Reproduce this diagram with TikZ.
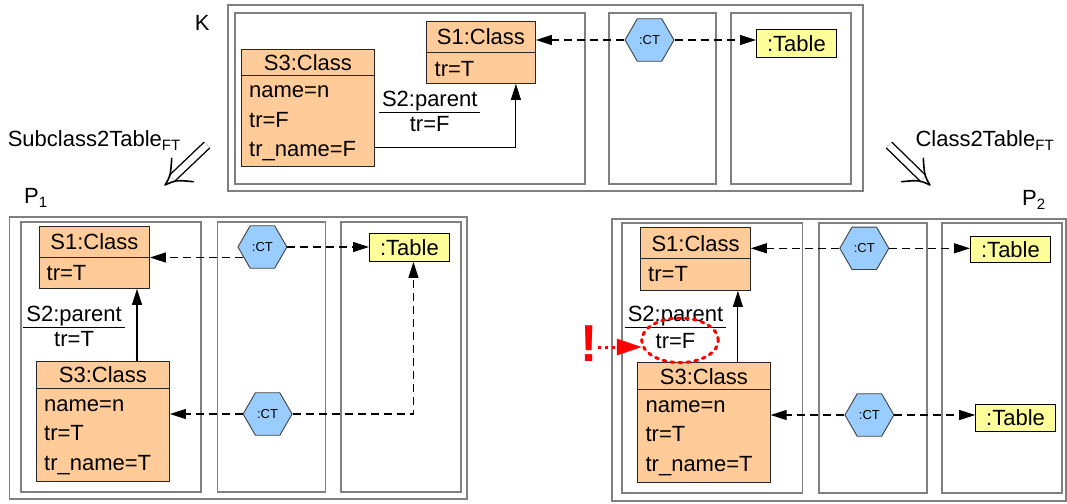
\documentclass[tikz,border=0pt]{standalone}
\usepackage{fontspec}
\setmainfont{Liberation Sans}
\usetikzlibrary{arrows.meta,shapes.geometric}
\definecolor{clsfill}{HTML}{FFCC99}
\definecolor{tabfill}{HTML}{FFFF99}
\definecolor{hexfill}{HTML}{99CCFF}
\definecolor{panelcol}{HTML}{808080}
\definecolor{alertcol}{HTML}{FF0000}
\newcommand\subtxt[1]{\raisebox{-4pt}{\fontsize{15}{15}\selectfont #1}}
\tikzset{
  panel/.style={draw=panelcol, line width=1.8pt, anchor=north west, inner sep=0pt},
  clshead/.style={draw=black!85, fill=clsfill, line width=0.9pt, anchor=north west, inner sep=0pt, font=\fontsize{22}{26}\selectfont},
  clsbody/.style={draw=black!85, fill=clsfill, line width=0.9pt, anchor=north west, inner sep=0pt},
  attr/.style={font=\fontsize{22}{26}\selectfont, anchor=base west, inner sep=0pt},
  lbl/.style={font=\fontsize{22}{26}\selectfont, anchor=base, inner xsep=0pt, inner ysep=1.5pt},
  title/.style={font=\fontsize{22}{26}\selectfont, anchor=base west, inner sep=0pt},
  tabbox/.style={draw=black, fill=tabfill, line width=0.9pt, anchor=north west, inner sep=0pt, font=\fontsize{22}{26}\selectfont},
  hexnode/.style={regular polygon, regular polygon sides=6, minimum size=49pt, inner sep=0pt, draw=black!75, fill=hexfill, line width=0.9pt, font=\fontsize{13}{15}\selectfont},
  dep/.style={dash pattern=on 8pt off 5pt, line width=1.1pt, -{Triangle[length=16pt,width=10pt]}},
  assoc/.style={line width=1.1pt, -{Triangle[length=16pt,width=10pt]}},
  sepline/.style={line width=1pt},
  dblshaft/.style={double, double distance=6.5pt, line width=1.4pt},
  dblhead/.style={line width=1.6pt, line cap=round, line join=round},
  alertarrow/.style={draw=alertcol, line width=3pt, dash pattern=on 3pt off 4pt, -{Triangle[length=25pt,width=16pt,fill=alertcol]}},
  alertring/.style={ellipse, draw=alertcol, line width=3pt, dash pattern=on 3pt off 5pt, line cap=round, inner sep=0pt},
}
\begin{document}
\begin{tikzpicture}[x=1pt,y=-1pt]
\useasboundingbox (0,0) rectangle (1067,503);

% ---------------- K ----------------
\node[title] (klab) at (194.6,30.7) {K};
\node[panel, minimum width=635pt, minimum height=186pt] (kout) at (227,4) {};
\node[panel, minimum width=350pt, minimum height=171pt] (kf1) at (234,12) {};
\node[panel, minimum width=107pt, minimum height=171pt] (kf2) at (608,12) {};
\node[panel, minimum width=120pt, minimum height=171pt] (kf3) at (730,12) {};

\node[clshead, minimum width=109pt, minimum height=31pt] (k1h) at (426,21) {S1:Class};
\node[clsbody, minimum width=109pt, minimum height=31pt] (k1b) at (426,52) {};
\node[attr] (k1a) at (434.5,76) {tr=T};

\node[clshead, minimum width=133pt, minimum height=26pt] (k3h) at (241,49) {S3:Class};
\node[clsbody, minimum width=133pt, minimum height=91pt] (k3b) at (241,75) {};
\node[attr] (k3a) at (249,97.5) {name=n};
\node[attr] (k3c) at (249,127) {tr=F};
\node[attr] (k3d) at (249,156.5) {tr\_name=F};

\node[lbl, minimum width=101pt] (k2) at (429.7,106.7) {S2:parent};
\draw[sepline] (k2.south west) -- (k2.south east);
\node[lbl] (k2a) at (429.7,131.7) {tr=F};
\draw[assoc] ([yshift=3.5pt]k3b.east |- k3d.east) -| ([xshift=-20pt]k1b.south east);

\node[hexnode] (khex) at (649.5,40) {:CT};
\node[tabbox, minimum width=80pt, minimum height=28pt] (ktab) at (756,29) {:Table};
\draw[dep] (khex.west) -- (khex.west -| k1h.east);
\draw[dep] (khex.east) -- (khex.east -| ktab.west);

% ---------------- rule arrows ----------------
\node[title] (lrule) at (7.6,146.7) {Subclass2Table\subtxt{FT}};
\coordinate (ls) at (207,145);
\coordinate (lm) at (172.2,178.1);
\coordinate (lw1) at (171.7,158.3);
\coordinate (lt) at (165,185);
\coordinate (lw2) at (193.3,181.7);
\draw[dblshaft] (ls) -- (lm);
\draw[dblhead] (lw1) .. controls (170.5,176) .. (lt) .. controls (176,180) .. (lw2);

\node[title] (rrule) at (915.3,146.7) {Class2Table\subtxt{FT}};
\coordinate (rs) at (889,145);
\coordinate (rm) at (922.8,178.1);
\coordinate (rw1) at (923.3,158.3);
\coordinate (rt) at (930,185);
\coordinate (rw2) at (901.7,181.7);
\draw[dblshaft] (rs) -- (rm);
\draw[dblhead] (rw1) .. controls (924.5,176) .. (rt) .. controls (919,180) .. (rw2);

% ---------------- P1 ----------------
\node[title] (p1lab) at (24,203.3) {P\subtxt{1}};
\node[panel, minimum width=457.4pt, minimum height=282pt] (p1out) at (8.6,216) {};
\node[panel, minimum width=180.5pt, minimum height=270pt] (p1f1) at (19.7,220.7) {};
\node[panel, minimum width=108pt, minimum height=270pt] (p1f2) at (216.6,220.7) {};
\node[panel, minimum width=120pt, minimum height=270pt] (p1f3) at (340.3,220.7) {};

\node[clshead, minimum width=110pt, minimum height=31pt] (p1s1h) at (39,226) {S1:Class};
\node[clsbody, minimum width=110pt, minimum height=31pt] (p1s1b) at (39,257) {};
\node[attr] (p1s1a) at (46.5,280) {tr=T};

\node[clshead, minimum width=133pt, minimum height=27pt] (p1s3h) at (36,361) {S3:Class};
\node[clsbody, minimum width=133pt, minimum height=93pt] (p1s3b) at (36,388) {};
\node[attr] (p1s3a) at (44,411.7) {name=n};
\node[attr] (p1s3c) at (44,440.7) {tr=T};
\node[attr] (p1s3d) at (44,470) {tr\_name=T};

\node[lbl, minimum width=101.4pt] (p1s2) at (74.1,321.7) {S2:parent};
\draw[sepline] (p1s2.south west) -- (p1s2.south east);
\node[lbl] (p1s2a) at (74.1,346.7) {tr=T};
\draw[assoc] ([xshift=101pt]p1s3h.north west) -- ([xshift=101pt]p1s3h.north west |- p1s1b.south);

\node[hexnode] (p1hexa) at (262.4,247) {:CT};
\node[hexnode] (p1hexb) at (267.6,414) {:CT};
\node[tabbox, minimum width=80pt, minimum height=28pt] (p1tab) at (369,233) {:Table};
\draw[dep] (p1hexa.209) -- (p1hexa.209 -| p1s1b.east);
\draw[dep] (p1hexa.east) -- (p1hexa.east -| p1tab.west);
\draw[dep] (p1hexb.west) -- (p1hexb.west -| p1s3b.east);
\draw[dep] (p1hexb.east) -| ([xshift=4pt]p1tab.south);

% ---------------- P2 ----------------
\node[title] (p2lab) at (1022,205) {P\subtxt{2}};
\node[panel, minimum width=454pt, minimum height=282.3pt] (p2out) at (610.8,217.7) {};
\node[panel, minimum width=180.5pt, minimum height=270pt] (p2f1) at (621.1,222.3) {};
\node[panel, minimum width=107.8pt, minimum height=270pt] (p2f2) at (818.4,222.3) {};
\node[panel, minimum width=120.2pt, minimum height=270pt] (p2f3) at (941,222.3) {};

\node[clshead, minimum width=109.6pt, minimum height=31pt] (p2s1h) at (640.3,227.3) {S1:Class};
\node[clsbody, minimum width=109.6pt, minimum height=31.7pt] (p2s1b) at (640.3,258.3) {};
\node[attr] (p2s1a) at (648,281.7) {tr=T};

\node[clshead, minimum width=132.5pt, minimum height=27pt] (p2s3h) at (637.2,362.3) {S3:Class};
\node[clsbody, minimum width=132.5pt, minimum height=93pt] (p2s3b) at (637.2,389.3) {};
\node[attr] (p2s3a) at (645.4,412.3) {name=n};
\node[attr] (p2s3c) at (645.4,441.7) {tr=T};
\node[attr] (p2s3d) at (645.4,471.3) {tr\_name=T};

\node[lbl, minimum width=101.3pt] (p2s2) at (675.5,321.7) {S2:parent};
\draw[sepline] (p2s2.south west) -- (p2s2.south east);
\node[lbl] (p2s2a) at (675.5,348) {tr=F};
\draw[assoc] ([xshift=100.7pt]p2s3h.north west) -- ([xshift=100.7pt]p2s3h.north west |- p2s1b.south);

\node[hexnode] (p2hexa) at (864.3,248.3) {:CT};
\node[hexnode] (p2hexb) at (869.4,415) {:CT};
\node[tabbox, minimum width=80pt, minimum height=26.6pt] (p2tab1) at (970,235.7) {:Table};
\node[tabbox, minimum width=79.8pt, minimum height=26.7pt] (p2tab2) at (975.2,404) {:Table};
\draw[dep] (p2hexa.west) -- (p2hexa.west -| p2s1b.east);
\draw[dep] (p2hexa.east) -- (p2hexa.east -| p2tab1.west);
\draw[dep] (p2hexb.west) -- (p2hexb.west -| p2s3b.east);
\draw[dep] (p2hexb.east) -- (p2hexb.east -| p2tab2.west);

% ---------------- alert ----------------
\node[alertring, minimum width=76.6pt, minimum height=44.6pt] (ring) at (680,340.3) {};
\node[font=\fontsize{52}{52}\selectfont\bfseries, text=alertcol, anchor=base, inner sep=0pt] (excl) at (589,361.7) {!};
\draw[alertarrow] (excl.east |- ring.190) -- (ring.190);
\end{tikzpicture}
\end{document}
